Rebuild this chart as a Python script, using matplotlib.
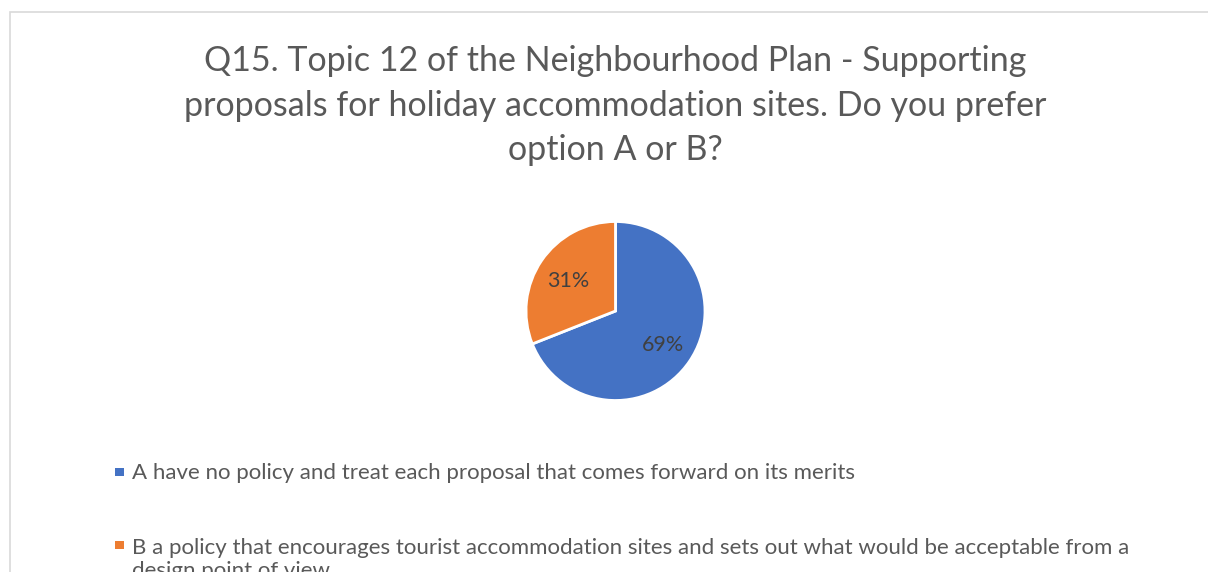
import matplotlib
matplotlib.use("Agg")
import matplotlib.pyplot as plt
from matplotlib.patches import Rectangle

labels = ["A have no policy and treat each proposal that comes forward on its merits",
          "B a policy that encourages tourist accommodation sites and sets out what would be acceptable from a\ndesign point of view"]
values = [69, 31]
colors = ["#4472C4", "#ED7D31"]
title = "Q15. Topic 12 of the Neighbourhood Plan - Supporting\nproposals for holiday accommodation sites. Do you prefer\noption A or B?"

W, H = 1208, 572
fig = plt.figure(figsize=(W / 100, H / 100), dpi=100)
plt.rcParams['font.family'] = ['Lato', 'DejaVu Sans']

# chart border
fig.patches.append(Rectangle((10 / W, -0.1), 1.2, 1 - 12 / H + 0.1, transform=fig.transFigure,
                             fill=False, edgecolor="#D9D9D9", linewidth=1.2))

# va="baseline" on multi-line text aligns the last line's baseline
fig.text(615 / W, 1 - 160 / H, title, ha="center", va="baseline", fontsize=24.5,
         color="#595959", linespacing=1.48)

cx, cy, r = 615.5, 311, 89.5
ax = fig.add_axes([(cx - r) / W, 1 - (cy + r) / H, 2 * r / W, 2 * r / H])
wedges, texts, autotexts = ax.pie(values, colors=colors, startangle=90, counterclock=False,
                                  autopct=lambda p: f"{p:.0f}%", pctdistance=0.64,
                                  wedgeprops=dict(edgecolor="white", linewidth=2),
                                  textprops=dict(color="#404040", fontsize=15.5))
for t in autotexts:
    t.set_va("center_baseline")
ax.set_xlim(-1, 1)
ax.set_ylim(-1, 1)
ax.set_aspect("equal")
ax.axis("off")

legend_base = [479, 552]
line_h = 25
for lab, col, y in zip(labels, colors, legend_base):
    fig.patches.append(Rectangle((115 / W, 1 - (y - 3) / H), 8.5 / W, 8.5 / H, transform=fig.transFigure,
                                 facecolor=col, edgecolor="none"))
    nlines = lab.count("\n")
    fig.text(132 / W, 1 - (y + nlines * line_h) / H, lab, ha="left", va="baseline", fontsize=16,
             color="#595959", linespacing=1.2, transform=fig.transFigure)

fig.savefig("out.png", dpi=100)
